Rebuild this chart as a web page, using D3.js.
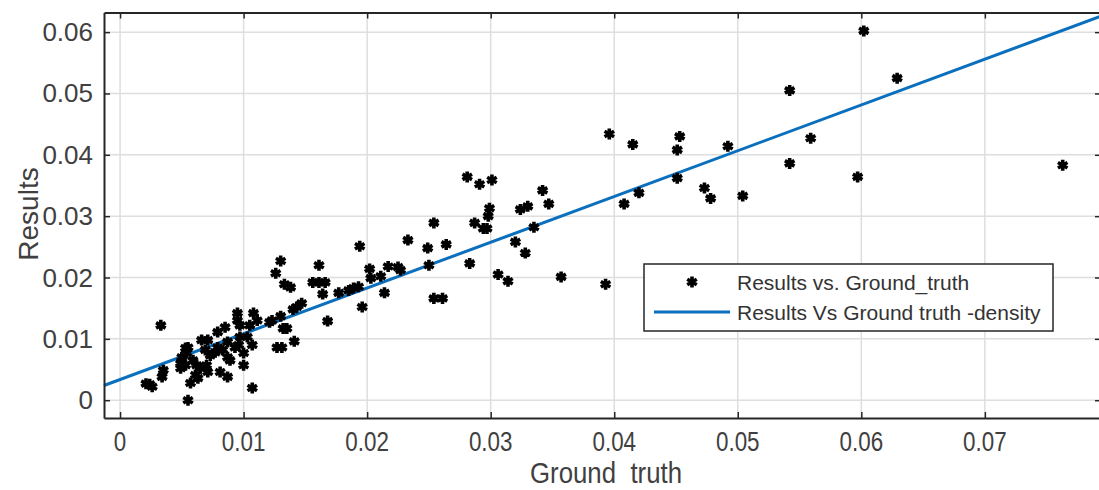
<!DOCTYPE html>
<html>
<head>
<meta charset="utf-8">
<script src="https://cdn.jsdelivr.net/npm/d3@7"></script>
<style>
  html, body { margin: 0; padding: 0; background: #ffffff; }
  svg { display: block; }
</style>
</head>
<body>
<svg id="chart" width="1099" height="490"></svg>
<script>
// ---- data ----
const groundTruth = [
  0.0602, 0.0629, 0.0542, 0.0559, 0.0492, 0.0542, 0.0597, 0.0763, 0.0473, 0.0478, 0.0504,
  0.0396, 0.0415, 0.0453, 0.0451, 0.0451, 0.0420, 0.0408,
  0.0281, 0.0291, 0.0301, 0.0299, 0.0298, 0.0297, 0.0294, 0.0287, 0.0264, 0.0283, 0.0306, 0.0314,
  0.0320, 0.0328, 0.0335, 0.0324, 0.0330, 0.0342, 0.0347, 0.0357, 0.0393,
  0.0254, 0.0233, 0.0249, 0.0250, 0.0254, 0.0261, 0.0194, 0.0202, 0.0203, 0.0211, 0.0214, 0.0217,
  0.0225, 0.0227, 0.0196, 0.0193, 0.0189, 0.0185, 0.0177, 0.0164, 0.0168, 0.0156, 0.0161, 0.0166,
  0.0161, 0.0130, 0.0126, 0.0133, 0.0138, 0.0147, 0.0143, 0.0140, 0.0130, 0.0135, 0.0132, 0.0123,
  0.0108, 0.0111, 0.0141, 0.0127, 0.0131, 0.0107,
  0.0033, 0.0024, 0.0021, 0.0026, 0.0034, 0.0035, 0.0055, 0.0057, 0.0107,
  0.0049, 0.0053, 0.0050, 0.0054, 0.0049, 0.0053, 0.0055, 0.0059, 0.0062, 0.0065, 0.0061, 0.0063,
  0.0066, 0.0071, 0.0069, 0.0073, 0.0077, 0.0070, 0.0071, 0.0079, 0.0085, 0.0079, 0.0083, 0.0081,
  0.0087, 0.0087, 0.0089, 0.0087, 0.0093, 0.0096, 0.0095, 0.0095, 0.0097, 0.0100, 0.0100, 0.0105,
  0.0103, 0.0097, 0.0121
];
const results = [
  0.0602, 0.0525, 0.0505, 0.0427, 0.0414, 0.0386, 0.0364, 0.0383, 0.0346, 0.0329, 0.0333,
  0.0434, 0.0417, 0.0430, 0.0408, 0.0362, 0.0338, 0.0320,
  0.0364, 0.0352, 0.0359, 0.0313, 0.0300, 0.0280, 0.0280, 0.0289, 0.0254, 0.0223, 0.0205, 0.0194,
  0.0258, 0.0240, 0.0282, 0.0311, 0.0316, 0.0342, 0.0320, 0.0201, 0.0189,
  0.0289, 0.0261, 0.0248, 0.0220, 0.0166, 0.0166, 0.0251, 0.0214, 0.0199, 0.0202, 0.0175, 0.0218,
  0.0217, 0.0212, 0.0152, 0.0185, 0.0183, 0.0179, 0.0175, 0.0173, 0.0129, 0.0192, 0.0192, 0.0192,
  0.0220, 0.0227, 0.0207, 0.0189, 0.0184, 0.0158, 0.0152, 0.0148, 0.0137, 0.0117, 0.0117, 0.0130,
  0.0142, 0.0130, 0.0096, 0.0086, 0.0086, 0.0090,
  0.0122, 0.0026, 0.0027, 0.0022, 0.0038, 0.0049, 0.0000, 0.0028, 0.0020,
  0.0052, 0.0057, 0.0070, 0.0077, 0.0060, 0.0085, 0.0086, 0.0065, 0.0057, 0.0052, 0.0041, 0.0036,
  0.0098, 0.0098, 0.0082, 0.0073, 0.0078, 0.0057, 0.0046, 0.0111, 0.0119, 0.0086, 0.0082, 0.0046,
  0.0038, 0.0070, 0.0065, 0.0095, 0.0086, 0.0090, 0.0130, 0.0142, 0.0122, 0.0077, 0.0057, 0.0122,
  0.0103, 0.0103, 0.0127
];
const fitX = [-0.0013, 0.0794];
const fitY = [0.0024, 0.0626];
const xTicks = [0, 0.01, 0.02, 0.03, 0.04, 0.05, 0.06, 0.07];
const yTicks = [0, 0.01, 0.02, 0.03, 0.04, 0.05, 0.06];
const xDomain = [-0.0013, 0.0794];
const yDomain = [-0.0029, 0.0632];
const legendLabels = ["Results vs. Ground_truth", "Results Vs Ground truth -density"];
const xTitle = "Ground  truth";
const yTitle = "Results";

// ---- layout ----
const svg = d3.select("#chart");
const L = 104, R = 1101, T = 12.5, B = 418;
const x = d3.scaleLinear().domain(xDomain).range([L, R]);
const y = d3.scaleLinear().domain(yDomain).range([B, T]);
const axisColor = "#262626", textColor = "#404040", gridColor = "#dedede";
const font = "Liberation Sans, Arial, sans-serif";

// grid
const grid = svg.append("g");
grid.selectAll("line.gx").data(xTicks).join("line")
  .attr("x1", d => x(d)).attr("x2", d => x(d)).attr("y1", T).attr("y2", B)
  .attr("stroke", gridColor).attr("stroke-width", 1.5);
grid.selectAll("line.gy").data(yTicks).join("line")
  .attr("y1", d => y(d)).attr("y2", d => y(d)).attr("x1", L).attr("x2", R)
  .attr("stroke", gridColor).attr("stroke-width", 1.5);

// fit line
const pts = d3.zip(groundTruth, results);
svg.append("path")
  .datum(d3.zip(fitX, fitY))
  .attr("d", d3.line().x(d => x(d[0])).y(d => y(d[1])))
  .attr("fill", "none").attr("stroke", "#0a6fbd").attr("stroke-width", 3);

// markers
const symType = d3.symbolAsterisk || d3.symbolCross;
const sym = d3.symbol().type(symType).size(85);
svg.append("g").selectAll("path").data(pts).join("path")
  .attr("transform", d => `translate(${x(d[0])},${y(d[1])})`)
  .attr("d", sym)
  .attr("fill", "#000").attr("stroke", "#000").attr("stroke-width", 3.6);

// axes (inward ticks on all four sides)
const tl = 6;
const axB = svg.append("g").attr("transform", `translate(0,${B})`)
  .call(d3.axisBottom(x).tickValues(xTicks).tickSizeInner(-tl).tickSizeOuter(0).tickFormat(() => ""));
const axT = svg.append("g").attr("transform", `translate(0,${T})`)
  .call(d3.axisTop(x).tickValues(xTicks).tickSizeInner(-tl).tickSizeOuter(0).tickFormat(() => ""));
const axL = svg.append("g").attr("transform", `translate(${L},0)`)
  .call(d3.axisLeft(y).tickValues(yTicks).tickSizeInner(-tl).tickSizeOuter(0).tickFormat(() => ""));
const axR = svg.append("g").attr("transform", `translate(${R},0)`)
  .call(d3.axisRight(y).tickValues(yTicks).tickSizeInner(-tl).tickSizeOuter(0).tickFormat(() => ""));
[axB, axT, axL, axR].forEach(a => {
  a.select(".domain").attr("stroke", axisColor).attr("stroke-width", 2);
  a.selectAll(".tick line").attr("stroke", axisColor).attr("stroke-width", 1.5);
});

// tick labels
const fmt = d => d === 0 ? "0" : d3.format(".2f")(d);
svg.append("g").selectAll("text").data(xTicks).join("text")
  .attr("transform", d => `translate(${x(d)},${451}) scale(0.8,1)`)
  .attr("text-anchor", "middle")
  .attr("font-family", font)
  .attr("font-size", 28).attr("fill", textColor)
  .text(fmt);
svg.append("g").selectAll("text").data(yTicks).join("text")
  .attr("x", 93).attr("y", d => y(d) + 9)
  .attr("text-anchor", "end")
  .attr("font-family", font)
  .attr("font-size", 26).attr("fill", textColor)
  .text(fmt);

// axis titles
svg.append("text")
  .attr("transform", `translate(${606},${483}) scale(0.86,1)`)
  .attr("text-anchor", "middle")
  .attr("font-family", font)
  .attr("font-size", 30).attr("fill", textColor)
  .attr("xml:space", "preserve").style("white-space", "pre")
  .text(xTitle);
svg.append("text")
  .attr("transform", `translate(38,${214}) rotate(-90)`)
  .attr("text-anchor", "middle")
  .attr("font-family", font)
  .attr("font-size", 28).attr("fill", textColor)
  .text(yTitle);

// legend
const lg = svg.append("g");
lg.append("rect").attr("x", 644).attr("y", 264).attr("width", 409).attr("height", 67)
  .attr("fill", "#fff").attr("stroke", axisColor).attr("stroke-width", 1.5);
lg.append("path").attr("transform", "translate(692,282)").attr("d", sym)
  .attr("fill", "#000").attr("stroke", "#000").attr("stroke-width", 3.6);
lg.append("line").attr("x1", 654).attr("x2", 730).attr("y1", 312).attr("y2", 312)
  .attr("stroke", "#0a6fbd").attr("stroke-width", 3);
lg.selectAll("text").data(legendLabels).join("text")
  .attr("x", 737).attr("y", (d, i) => 290 + i * 30)
  .attr("font-family", font)
  .attr("font-size", 21).attr("fill", "#333")
  .text(d => d);
</script>
</body>
</html>
